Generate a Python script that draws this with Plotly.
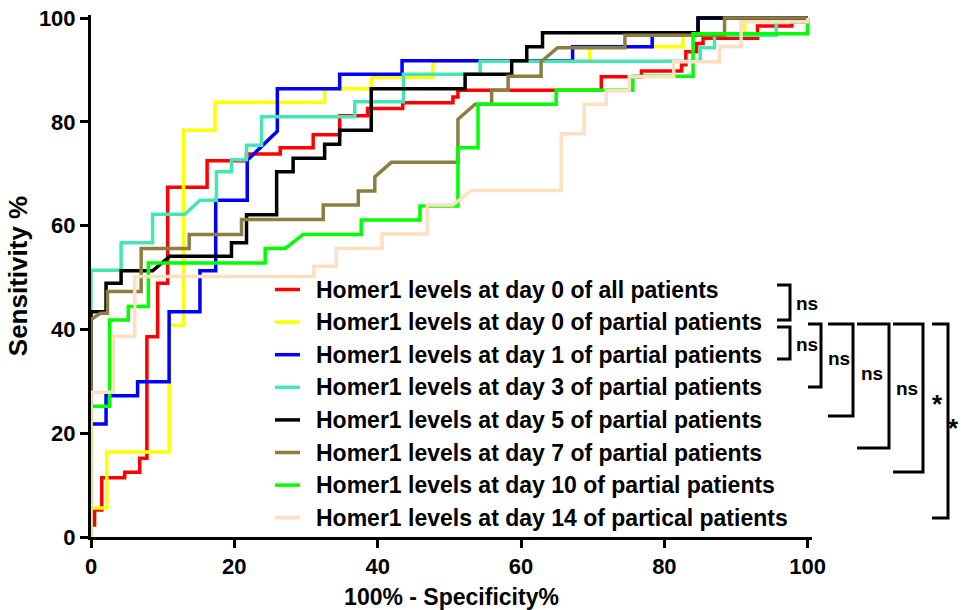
import plotly.graph_objects as go

# ROC points: x = 100% - specificity%, y = sensitivity %
names = [
    "Homer1 levels at day 0 of all patients",
    "Homer1 levels at day 0 of partial patients",
    "Homer1 levels at day 1 of partial patients",
    "Homer1 levels at day 3 of partial patients",
    "Homer1 levels at day 5 of partial patients",
    "Homer1 levels at day 7 of partial patients",
    "Homer1 levels at day 10 of partial patients",
    "Homer1 levels at day 14 of partical patients",
]
colors = ["#FF0000", "#FFFF00", "#0000FF", "#46E6B4",
          "#000000", "#8C7D41", "#00FF00", "#FFDFBF"]

red_x = [0, 0, 0.5, 0.5, 1.5, 1.5, 4.7, 4.7, 6.8, 6.8, 7.8, 7.8, 9.3, 9.3, 10.7, 10.7,
         16.2, 16.2, 21.7, 21.7, 26.4, 26.4, 31, 31, 34.7, 34.7, 38.6, 38.6, 43.5, 43.5,
         50.5, 50.5, 51.2, 51.2, 71.2, 71.2, 76.8, 76.8, 82.4, 82.4, 83, 83, 84.5, 84.5,
         85.4, 85.4, 93, 93, 97.8, 97.8, 100, 100]
red_y = [0, 2.3, 2.3, 5.2, 5.2, 11.4, 11.4, 12.5, 12.5, 15.2, 15.2, 38.6, 38.6, 48.9, 48.9, 67.4,
         67.4, 72.5, 72.5, 73.8, 73.8, 75.0, 75.0, 77.5, 77.5, 81.2, 81.2, 82.6, 82.6, 83.7,
         83.7, 84.8, 84.8, 86.1, 86.1, 88.7, 88.7, 89.8, 89.8, 91.0, 91.0, 93.5, 93.5, 95.1,
         95.1, 96.1, 96.1, 98.5, 98.5, 99.3, 99.3, 100]

yellow_x = [0, 0, 2.2, 2.2, 10.9, 10.9, 12.9, 12.9, 17.3, 17.3, 32.6, 32.6, 39.1, 39.1,
            47.7, 47.7, 69.6, 69.6, 82.6, 82.6, 91.2, 91.2, 100]
yellow_y = [0, 5.6, 5.6, 16.4, 16.4, 40.8, 40.8, 78.4, 78.4, 83.8, 83.8, 86.4, 86.4, 88.6,
            88.6, 91.7, 91.7, 94.5, 94.5, 96.7, 96.7, 100, 100]

blue_x = [0, 0, 2.1, 2.1, 6.5, 6.5, 10.9, 10.9, 15.2, 15.2, 17.4, 17.4, 21.8, 21.8, 26.0,
          26.0, 34.7, 34.7, 43.4, 43.4, 67.2, 67.2, 78.3, 78.3, 84.7, 84.7, 100]
blue_y = [0, 21.8, 21.8, 27.2, 27.2, 29.9, 29.9, 43.4, 43.4, 51.3, 51.3, 64.9, 64.9, 72.6, 78.2,
          86.4, 86.4, 89.2, 89.2, 91.8, 91.8, 94.5, 94.5, 96.7, 96.7, 100, 100]

teal_x = [0, 0, 4.2, 4.2, 8.6, 8.6, 13.1, 15.2, 17.5, 17.5, 19.6, 19.6, 21.7, 21.7, 23.8,
          23.8, 36.8, 36.8, 43.6, 43.6, 54.3, 54.3, 85, 85, 87, 87, 95.6, 95.6, 100, 100]
teal_y = [0, 51.4, 51.4, 56.7, 56.7, 62.2, 62.2, 64.9, 64.9, 70.4, 70.4, 72.7, 72.7, 75.5, 75.5,
          81.0, 81.0, 83.9, 83.9, 89.2, 89.2, 91.7, 91.7, 94.3, 94.3, 96.7, 96.7, 99.3, 99.3, 100]

black_x = [0, 0, 2.1, 2.1, 4.2, 4.2, 8.6, 11.0, 19.6, 19.6, 21.7, 21.7, 25.9, 25.9, 28.2,
           28.2, 32.6, 32.6, 34.7, 34.7, 39.1, 39.1, 52.2, 52.2, 58.7, 58.7, 60.8, 60.8,
           63.0, 63.0, 84.7, 84.7, 100]
black_y = [0, 43.4, 43.4, 48.9, 48.9, 51.3, 51.3, 54.1, 54.1, 56.7, 56.7, 62.1, 62.1, 70.4, 70.4,
           73.0, 73.0, 75.7, 75.7, 78.4, 78.4, 86.4, 86.4, 89.2, 89.2, 91.8, 91.8, 94.5,
           94.5, 97.2, 97.2, 100, 100]

olive_x = [0, 0, 1.3, 2.3, 2.3, 7.0, 7.0, 13.7, 13.7, 21.0, 21.0, 32.4, 32.4, 37.3, 37.3,
           39.6, 39.6, 41.9, 51.2, 51.2, 53.6, 55.9, 55.9, 58.2, 58.2, 62.8, 62.8, 65.1,
           74.5, 74.5, 88.4, 88.4, 100]
olive_y = [0, 41.9, 43.1, 43.1, 47.3, 47.3, 55.6, 55.6, 58.3, 58.3, 61.2, 61.2, 64.0, 64.0, 66.7,
           66.7, 69.4, 72.2, 72.2, 80.5, 83.4, 83.4, 86.1, 86.1, 88.8, 88.8, 91.6, 94.3,
           94.3, 96.7, 96.7, 100, 100]

green_x = [0, 0, 2.6, 2.6, 5.2, 5.2, 8.0, 8.0, 24.3, 24.3, 27.1, 29.6, 37.7, 37.7, 45.9,
           45.9, 51.2, 51.2, 54.0, 54.0, 64.9, 64.9, 75.6, 75.6, 84.0, 84.0, 100, 100]
green_y = [0, 25.2, 25.2, 41.8, 41.8, 44.4, 44.4, 52.8, 52.8, 55.6, 55.6, 58.3, 58.3, 61.1, 61.1,
           63.8, 63.8, 75.0, 75.0, 83.4, 83.4, 86.1, 86.1, 88.8, 88.8, 97.0, 97.0, 100]

peach_x = [0, 0, 3.1, 3.1, 6.1, 6.1, 31.1, 31.1, 34.2, 34.2, 40.6, 40.6, 46.9, 46.9, 50.5,
           53.1, 65.6, 65.6, 68.8, 68.8, 71.9, 71.9, 75.1, 75.1, 81.3, 81.3, 87.7, 87.7,
           90.7, 90.7, 100, 100]
peach_y = [0, 27.9, 27.9, 38.7, 38.7, 50.2, 50.2, 52.2, 52.2, 55.6, 55.6, 58.4, 58.4, 64.0, 64.0,
           66.8, 66.8, 77.7, 77.7, 83.4, 83.4, 86.0, 86.0, 88.7, 88.7, 91.6, 91.6, 94.5,
           94.5, 99.3, 99.3, 100]

xs = [red_x, yellow_x, blue_x, teal_x, black_x, olive_x, green_x, peach_x]
ys = [red_y, yellow_y, blue_y, teal_y, black_y, olive_y, green_y, peach_y]

# pairwise comparison brackets: (left px, right px, top px, bottom px, label, label x px, label y px)
brackets = [
    (777, 790, 285, 320, "ns", 807, 303),
    (777, 790, 327, 359, "ns", 807, 344),
    (808, 821, 324, 387, "ns", 839, 358),
    (828, 853, 324, 416, "ns", 872, 373),
    (857, 889, 324, 448, "ns", 907, 388),
    (893, 923, 324, 472, "*", 937, 404),
    (932, 948, 324, 518, "*", 954, 428),
]

W, H = 961, 610
ML, MR, MT, MB = 91, 149, 15, 73
PW, PH = W - ML - MR, H - MT - MB

# key layout (pixels)
KEY_LINE_X0, KEY_LINE_X1, KEY_TEXT_X = 275, 300, 314
KEY_ROW0, KEY_STEP = 289.5, 32.6


def px(x):
    return (x - ML) / PW


def py(y):
    return (H - MB - y) / PH


FONT = "Liberation Sans, Arial, sans-serif"

fig = go.Figure()
for name, c, x, y in zip(names, colors, xs, ys):
    fig.add_trace(go.Scatter(x=x, y=y, mode="lines", name=name,
                             line=dict(color=c, width=3.5), showlegend=False))

shapes = []
annotations = []

# key: coloured line sample plus bold label per series
for i, (name, c) in enumerate(zip(names, colors)):
    ry = py(KEY_ROW0 + i * KEY_STEP)
    shapes.append(dict(type="line", xref="paper", yref="paper",
                       x0=px(KEY_LINE_X0), x1=px(KEY_LINE_X1), y0=ry, y1=ry,
                       line=dict(color=c, width=3.5)))
    annotations.append(dict(xref="paper", yref="paper", x=px(KEY_TEXT_X), y=ry,
                            text=name, showarrow=False, xanchor="left", yanchor="middle",
                            font=dict(family=FONT, size=23, color="black", weight="bold")))

for x0, x1, y0, y1, lab, lx, ly in brackets:
    path = (f"M {px(x0)},{py(y0)} L {px(x1)},{py(y0)} "
            f"L {px(x1)},{py(y1)} L {px(x0)},{py(y1)}")
    shapes.append(dict(type="path", xref="paper", yref="paper", path=path,
                       line=dict(color="black", width=3)))
    annotations.append(dict(xref="paper", yref="paper", x=px(lx), y=py(ly),
                            text=lab, showarrow=False, xanchor="center", yanchor="middle",
                            font=dict(family=FONT, size=19 if lab == "ns" else 26,
                                      color="black", weight="bold")))

axis_common = dict(
    showline=True, linecolor="black", linewidth=3,
    ticks="outside", ticklen=8, tickwidth=3, tickcolor="black",
    showgrid=False, zeroline=False, automargin=False,
    tickfont=dict(family=FONT, size=22, color="black", weight="bold"),
    tickvals=[0, 20, 40, 60, 80, 100],
)

fig.update_layout(
    width=W, height=H,
    margin=dict(l=ML, r=MR, t=MT, b=MB),
    paper_bgcolor="white", plot_bgcolor="white",
    xaxis=dict(range=[0, 100.6], title=dict(text="100% - Specificity%",
               font=dict(family=FONT, size=23, color="black", weight="bold"), standoff=12),
               **axis_common),
    yaxis=dict(range=[0, 100.6], title=dict(text="Sensitivity %",
               font=dict(family=FONT, size=26, color="black", weight="bold"), standoff=4),
               **axis_common),
    shapes=shapes,
    annotations=annotations,
    showlegend=False,
)

fig.write_html("out.html")
